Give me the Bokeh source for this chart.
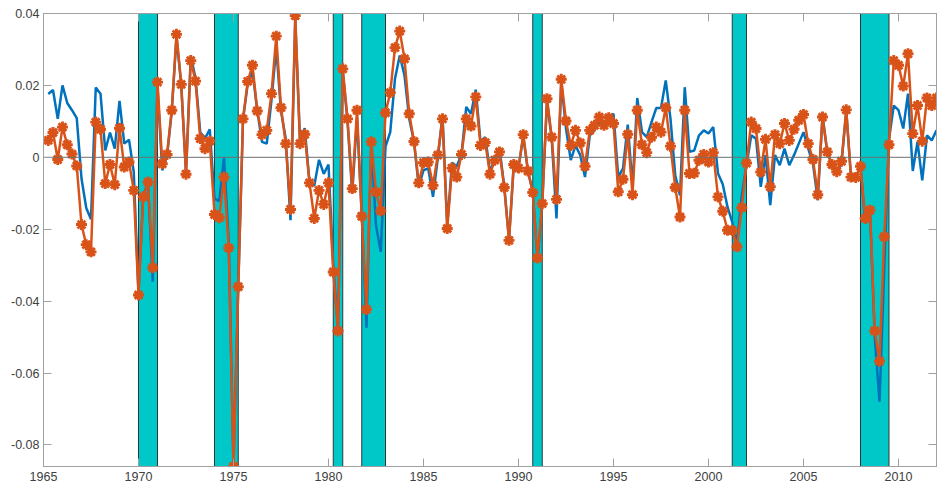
import numpy as np
from bokeh.plotting import figure
from bokeh.models import (Range1d, LinearAxis, FixedTicker, Span,
                          CustomLabelingPolicy)
from bokeh.embed import file_html
from bokeh.resources import INLINE

# ---------------- data ----------------
first_quarter = 1965.25
quarter_step = 0.25

blue_series = [
    0.0176, 0.0187, 0.0107, 0.0200,
    0.0151, 0.0131, 0.0109, -0.0059,
    -0.0141, -0.0172, 0.0194, 0.0177,
    0.0019, 0.0069, 0.0024, 0.0157,
    0.0038, 0.0049, -0.0041, -0.0375,
    -0.0105, -0.0072, -0.0346, 0.0195,
    -0.0036, 0.0002, 0.0128, 0.0335,
    0.0200, -0.0043, 0.0283, 0.0220,
    0.0070, 0.0052, 0.0078, -0.0115,
    -0.0122, 0.0000, -0.0235, -0.0858,
    -0.0362, 0.0105, 0.0205, 0.0240,
    0.0130, 0.0043, 0.0038, 0.0160,
    0.0305, 0.0128, 0.0052, -0.0175,
    0.0385, 0.0045, 0.0081, -0.0069,
    -0.0079, -0.0007, -0.0046, -0.0020,
    -0.0300, -0.0480, 0.0240, 0.0100,
    -0.0100, 0.0110, -0.0160, -0.0474,
    0.0040, -0.0189, -0.0263, 0.0030,
    0.0070, 0.0219, 0.0283, 0.0228,
    0.0107, 0.0043, -0.0082, -0.0036,
    -0.0031, -0.0110, -0.0004, 0.0117,
    -0.0190, -0.0015, -0.0025, 0.0008,
    0.0140, 0.0121, 0.0188, 0.0043,
    0.0056, -0.0040, -0.0005, 0.0024,
    -0.0080, -0.0228, -0.0022, -0.0028,
    0.0058, -0.0040, -0.0095, -0.0286,
    -0.0130, 0.0158, 0.0050, -0.0170,
    0.0210, 0.0080, -0.0008, 0.0033,
    0.0006, -0.0055, 0.0061, 0.0075,
    0.0100, 0.0090, 0.0110, 0.0121,
    -0.0055, -0.0031, 0.0091, -0.0080,
    0.0165, 0.0070, 0.0056, 0.0098,
    0.0137, 0.0137, 0.0214, 0.0107,
    -0.0050, -0.0106, 0.0195, 0.0015,
    0.0019, 0.0061, 0.0075, 0.0066,
    0.0084, -0.0045, -0.0075, -0.0138,
    -0.0180, -0.0240, -0.0106, -0.0022,
    0.0061, 0.0052, -0.0082, 0.0006,
    -0.0133, 0.0006, -0.0022, 0.0024,
    -0.0022, 0.0006, 0.0038, 0.0070,
    0.0024, -0.0018, -0.0119, 0.0117,
    0.0015, -0.0022, -0.0045, -0.0018,
    0.0130, -0.0055, -0.0056, -0.0025,
    -0.0184, -0.0147, -0.0500, -0.0680,
    -0.0310, 0.0050, 0.0144, 0.0131,
    0.0080, 0.0177, -0.0038, 0.0043,
    -0.0064, 0.0061, 0.0047, 0.0075,
]

orange_series = [
    0.0047, 0.0069, -0.0006, 0.0084,
    0.0035, 0.0009, -0.0024, -0.0187,
    -0.0243, -0.0263, 0.0098, 0.0078,
    -0.0073, -0.0020, -0.0076, 0.0081,
    -0.0027, -0.0013, -0.0092, -0.0383,
    -0.0110, -0.0069, -0.0307, 0.0209,
    -0.0018, 0.0008, 0.0131, 0.0342,
    0.0203, -0.0047, 0.0269, 0.0212,
    0.0052, 0.0024, 0.0045, -0.0159,
    -0.0168, -0.0055, -0.0252, -0.0860,
    -0.0360, 0.0107, 0.0211, 0.0256,
    0.0129, 0.0063, 0.0075, 0.0177,
    0.0337, 0.0138, 0.0038, -0.0145,
    0.0394, 0.0038, 0.0064, -0.0071,
    -0.0170, -0.0092, -0.0131, -0.0071,
    -0.0319, -0.0483, 0.0246, 0.0107,
    -0.0087, 0.0131, -0.0164, -0.0423,
    0.0043, -0.0096, -0.0149, 0.0124,
    0.0180, 0.0305, 0.0351, 0.0274,
    0.0121, 0.0044, -0.0071, -0.0015,
    -0.0013, -0.0078, 0.0006, 0.0107,
    -0.0198, -0.0030, -0.0055, 0.0008,
    0.0107, 0.0087, 0.0168, 0.0033,
    0.0041, -0.0047, -0.0008, 0.0015,
    -0.0084, -0.0231, -0.0020, -0.0030,
    0.0063, -0.0038, -0.0098, -0.0280,
    -0.0129, 0.0163, 0.0056, -0.0117,
    0.0217, 0.0101, 0.0033, 0.0075,
    0.0040, -0.0025, 0.0075, 0.0089,
    0.0112, 0.0089, 0.0110, 0.0094,
    -0.0096, -0.0061, 0.0064, -0.0104,
    0.0131, 0.0035, 0.0013, 0.0056,
    0.0084, 0.0070, 0.0138, 0.0031,
    -0.0084, -0.0166, 0.0131, -0.0045,
    -0.0044, -0.0008, 0.0008, -0.0013,
    0.0013, -0.0110, -0.0150, -0.0203,
    -0.0203, -0.0249, -0.0140, -0.0016,
    0.0098, 0.0080, -0.0041, 0.0050,
    -0.0082, 0.0063, 0.0038, 0.0094,
    0.0047, 0.0078, 0.0103, 0.0119,
    0.0038, -0.0006, -0.0104, 0.0112,
    0.0015, -0.0020, -0.0040, -0.0011,
    0.0132, -0.0055, -0.0056, -0.0025,
    -0.0170, -0.0147, -0.0483, -0.0567,
    -0.0221, 0.0035, 0.0269, 0.0256,
    0.0198, 0.0288, 0.0066, 0.0144,
    0.0045, 0.0165, 0.0144, 0.0165,
]

recession_starts = [1970.0, 1974.0, 1980.25, 1981.75, 1990.75, 2001.25, 2008.0]
recession_ends = [1971.0, 1975.25, 1980.75, 1983.0, 1991.25, 2002.0, 2009.5]

x_ticks = [1965, 1970, 1975, 1980, 1985, 1990, 1995, 2000, 2005, 2010]
x_tick_labels = [str(t) for t in x_ticks]
y_ticks = [-0.08, -0.06, -0.04, -0.02, 0, 0.02, 0.04]
y_tick_labels = ["-0.08", "-0.06", "-0.04", "-0.02", "0", "0.02", "0.04"]
zero_level = 0
x_limits = (1965, 2012)
y_limits = (-0.086, 0.04)

quarters = first_quarter + quarter_step * np.arange(len(orange_series))

# ---------------- styling ----------------
BLUE = "#0072BD"
ORANGE = "#D95319"
BAND = "#00C8C8"
AXIS_C = "#a0a0a0"
LABEL_C = "#404040"
FONT = "Liberation Sans"

p = figure(width=942, height=487, output_backend="svg", toolbar_location=None,
           x_range=Range1d(*x_limits), y_range=Range1d(*y_limits),
           min_border_left=43, min_border_right=6, min_border_top=13,
           min_border_bottom=21)
p.background_fill_color = "white"
p.border_fill_color = "white"
p.outline_line_color = AXIS_C
p.grid.visible = False

p.quad(left=recession_starts, right=recession_ends,
       bottom=[y_limits[0]] * len(recession_starts),
       top=[y_limits[1]] * len(recession_starts),
       fill_color=BAND, fill_alpha=1.0, line_color="#2a3a3a", line_width=1)

p.add_layout(Span(location=zero_level, dimension="width", line_color="#6e6e6e",
                  line_width=1, level="glyph"))

p.line(quarters, blue_series, line_color=BLUE, line_width=2.5)
p.line(quarters, orange_series, line_color=ORANGE, line_width=2.5)
p.scatter(quarters, orange_series, marker="asterisk", size=11,
          line_color=ORANGE, line_width=2.9)

no_labels = CustomLabelingPolicy(code="""
for (const i of Array.from(indices)) { indices.unset(i) }
return indices
""")

def style_axis(ax, show_labels):
    ax.axis_line_color = AXIS_C
    ax.major_tick_line_color = AXIS_C
    ax.major_tick_in = 8
    ax.major_tick_out = 0
    ax.minor_tick_line_color = None
    ax.major_label_text_font = FONT
    ax.major_label_text_color = LABEL_C
    if show_labels:
        ax.major_label_text_font_size = "12.5px"
    else:
        ax.major_label_text_font_size = "0px"
        ax.major_label_standoff = 0
        ax.major_label_policy = no_labels

xa = p.xaxis[0]
xa.ticker = FixedTicker(ticks=x_ticks)
xa.major_label_overrides = {t: l for t, l in zip(x_ticks, x_tick_labels)}
style_axis(xa, True)
xa.major_label_standoff = 5

ya = p.yaxis[0]
ya.ticker = FixedTicker(ticks=y_ticks)
ya.major_label_overrides = {t: l for t, l in zip(y_ticks, y_tick_labels)}
style_axis(ya, True)
ya.major_label_standoff = 4

top_ax = LinearAxis(ticker=FixedTicker(ticks=x_ticks))
style_axis(top_ax, False)
p.add_layout(top_ax, "above")
right_ax = LinearAxis(ticker=FixedTicker(ticks=y_ticks))
style_axis(right_ax, False)
p.add_layout(right_ax, "right")

open("out.html", "w").write(file_html(p, INLINE))
